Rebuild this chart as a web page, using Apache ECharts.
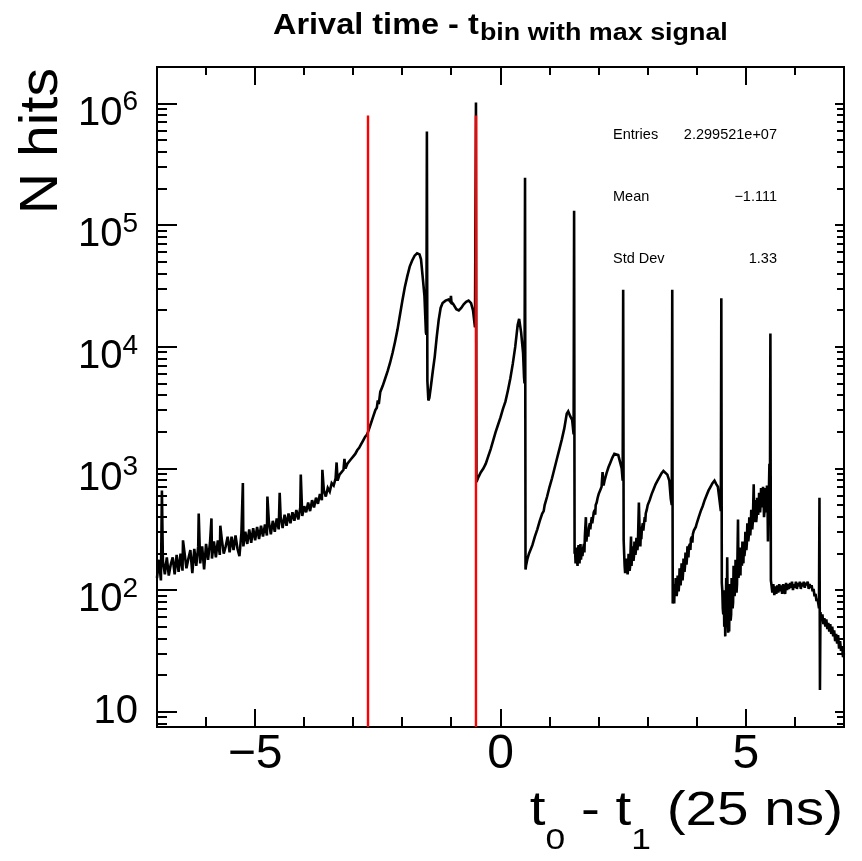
<!DOCTYPE html>
<html><head><meta charset="utf-8">
<script src="https://cdn.jsdelivr.net/npm/echarts@6/dist/echarts.min.js"></script>
<style>html,body{margin:0;padding:0;background:#fff;}#c{width:862px;height:861px;}</style>
</head><body><div id="c"></div>
<script>
// ---------------- DATA (y stored as log10(N hits)) ----------------
const X_MIN = -7, X_MAX = 7, Y_MIN = 7.5, Y_MAX = 2e6;

// noisy left tail: bins from -7.00 in steps of 0.04
const leftStart = -7.00, leftStep = 0.04;
const leftLogHits = [
2.10,2.25,2.08,2.24,2.13,2.27,2.12,2.21,2.27,2.13,2.29,2.15,2.30,2.16,2.31,2.18,2.26,2.33,2.14,2.34,
2.20,2.36,2.22,2.36,2.17,2.38,2.25,2.39,2.26,2.40,2.27,2.41,2.29,2.42,2.30,2.36,2.44,2.31,2.44,2.33,
2.45,2.34,2.28,2.47,2.36,2.48,2.38,2.50,2.39,2.51,2.41,2.52,2.42,2.53,2.44,2.54,2.45,2.56,2.46,2.57,
2.48,2.59,2.50,2.60,2.51,2.62,2.53,2.63,2.55,2.64,2.57,2.66,2.58,2.68,2.61,2.69,2.64,2.72,2.65,2.74,
2.68,2.76,2.71,2.79,2.74,2.82,2.77,2.84,2.81,2.88,2.86,2.92,2.90,2.95,2.96,2.99,3.00,3.04,3.05,3.08,
3.10,3.12,3.15,3.17,3.20,3.23,3.26,3.28
];
// single-bin upward spikes in the left tail [x, log10 N]
const leftSpikes = [
[-6.90,2.82],[-6.47,2.41],[-6.15,2.63],[-5.89,2.59],[-5.71,2.53],[-5.25,2.88],
[-4.75,2.77],[-4.50,2.80],[-4.07,2.95],[-3.63,2.99],[-3.34,3.05],[-3.18,3.08]
];
// rest of the histogram [x, log10 N]
const peakRegion = [
[-2.70,3.30],[-2.65,3.36],[-2.60,3.42],[-2.55,3.48],[-2.52,3.50],[-2.50,3.56],[-2.48,3.53],[-2.45,3.63],
[-2.40,3.68],[-2.35,3.74],[-2.30,3.80],[-2.25,3.87],[-2.20,3.95],[-2.15,4.04],[-2.10,4.14],[-2.05,4.26],
[-2.00,4.38],[-1.95,4.49],[-1.90,4.58],[-1.85,4.66],[-1.80,4.71],[-1.75,4.75],[-1.70,4.77],[-1.65,4.76],
[-1.62,4.72],[-1.58,4.55],[-1.55,4.42],[-1.52,4.12],[-1.51,4.10],
[-1.49,3.72],[-1.47,3.56],[-1.45,3.58],[-1.42,3.67],[-1.38,3.80],[-1.34,3.92],[-1.30,4.08],[-1.26,4.22],
[-1.22,4.32],[-1.18,4.36],[-1.12,4.38],[-1.06,4.39],[-1.02,4.37],[-1.01,4.42],[-1.00,4.37],[-0.96,4.35],
[-0.90,4.31],[-0.85,4.30],[-0.80,4.32],[-0.75,4.35],[-0.70,4.37],[-0.65,4.38],[-0.60,4.36],[-0.56,4.30],
[-0.52,4.16],[-0.51,4.15]
];
const centralRegion = [
[-0.49,2.89],[-0.45,2.93],[-0.40,2.97],[-0.35,3.00],[-0.30,3.04],[-0.25,3.10],[-0.20,3.16],[-0.15,3.23],
[-0.10,3.30],[-0.05,3.36],[0.00,3.42],[0.05,3.49],[0.10,3.55],[0.15,3.64],[0.20,3.74],[0.25,3.86],
[0.30,4.00],[0.35,4.18],[0.38,4.23],[0.42,4.12],[0.46,3.95],[0.48,3.75],[0.49,3.70],
[0.51,2.17],[0.52,2.20],[0.55,2.26],[0.58,2.30],[0.60,2.29],[0.65,2.37],[0.70,2.44],[0.72,2.45],[0.75,2.50],
[0.80,2.57],[0.85,2.63],[0.88,2.65],[0.90,2.70],[0.95,2.77],[1.00,2.85],[1.05,2.92],[1.10,3.00],[1.15,3.08],
[1.20,3.16],[1.25,3.24],[1.30,3.33],[1.35,3.45],[1.38,3.47],[1.42,3.43],[1.46,3.40],[1.48,3.32],[1.49,3.28]
];
const trainRegion = [
[1.51,2.30],[1.52,2.33],[1.53,2.22],[1.54,2.28],[1.55,2.35],[1.56,2.25],[1.57,2.20],[1.58,2.32],[1.59,2.37],
[1.60,2.27],[1.61,2.22],[1.62,2.30],[1.63,2.38],[1.64,2.25],[1.66,2.35],[1.67,2.28],
[1.68,2.33],[1.70,2.38],[1.71,2.31],[1.72,2.45],[1.74,2.60],[1.75,2.40],[1.76,2.44],[1.78,2.49],[1.79,2.44],
[1.80,2.51],[1.82,2.55],[1.83,2.50],[1.84,2.54],[1.86,2.60],[1.87,2.55],[1.88,2.58],[1.90,2.64],[1.92,2.66],
[1.93,2.62],[1.94,2.70],[1.96,2.72],[1.98,2.76],[2.00,2.79],[2.02,2.78],
[2.04,2.83],[2.06,2.85],[2.08,2.97],[2.10,2.86],[2.12,2.90],[2.16,2.96],[2.20,3.01],[2.24,3.05],[2.28,3.09],
[2.32,3.12],[2.36,3.13],[2.40,3.11],[2.44,3.10],[2.47,3.00],[2.49,2.90],
[2.51,2.41],[2.52,2.30],[2.53,2.20],[2.54,2.14],[2.55,2.24],[2.56,2.15],[2.57,2.26],[2.58,2.22],[2.59,2.13],
[2.60,2.17],[2.61,2.30],[2.62,2.25],[2.63,2.16],[2.64,2.19],[2.65,2.32],[2.66,2.44],[2.67,2.20],
[2.68,2.27],[2.69,2.36],[2.70,2.33],[2.71,2.24],[2.72,2.28],[2.73,2.40],[2.74,2.36],[2.75,2.29],[2.76,2.33],
[2.77,2.43],[2.78,2.40],[2.79,2.33],[2.80,2.38],[2.82,2.72],[2.84,2.42],[2.85,2.36],
[2.86,2.47],[2.87,2.42],[2.88,2.50],[2.90,2.55],[2.91,2.49],[2.92,2.53],[2.94,2.60],[2.95,2.56],[2.96,2.63],
[2.98,2.66],[3.00,2.70],[3.04,2.74],
[3.08,2.79],[3.12,2.83],[3.16,2.87],[3.20,2.90],[3.24,2.93],[3.28,2.96],[3.32,2.98],[3.36,2.99],[3.40,2.95],
[3.44,2.90],[3.47,2.75],[3.49,2.70],
[3.51,1.89],[3.52,1.92],[3.53,2.02],[3.54,1.89],[3.55,2.05],[3.56,1.98],[3.57,2.10],[3.58,2.03],[3.59,1.95],
[3.60,2.00],[3.61,2.12],[3.62,2.08],[3.63,1.99],[3.64,2.05],[3.65,2.18],[3.66,2.12],[3.67,2.04],
[3.68,2.10],[3.69,2.22],[3.70,2.16],[3.71,2.08],[3.72,2.14],[3.73,2.26],[3.74,2.22],[3.75,2.15],[3.76,2.20],
[3.77,2.31],[3.78,2.28],[3.79,2.21],[3.80,2.26],[3.81,2.36],[3.82,2.33],[3.83,2.27],[3.84,2.36],[3.86,2.38],
[3.87,2.33],[3.88,2.42],[3.90,2.44],[3.91,2.39],[3.92,2.46],[3.94,2.49],[3.96,2.48],
[3.98,2.52],[4.00,2.55],[4.04,2.60],[4.08,2.65],[4.12,2.69],[4.16,2.74],[4.20,2.78],[4.24,2.82],[4.28,2.85],
[4.32,2.88],[4.36,2.90],[4.40,2.87],[4.43,2.85],[4.46,2.75],[4.49,2.65]
];
const tailRegion = [
[4.51,2.06],[4.52,2.00],[4.53,1.85],[4.54,1.80],[4.55,2.00],[4.56,1.70],[4.57,1.90],[4.58,1.62],[4.59,1.85],
[4.60,2.10],[4.61,1.75],[4.62,2.27],[4.63,1.80],[4.64,1.65],[4.65,1.95],[4.66,1.66],[4.67,2.05],[4.68,1.95],
[4.69,1.75],[4.70,1.80],[4.71,2.10],[4.72,2.05],[4.73,1.85],[4.74,1.90],[4.75,2.20],[4.76,2.15],[4.77,1.95],
[4.78,2.00],[4.79,2.25],[4.80,2.20],[4.81,1.98],[4.82,2.05],[4.83,2.30],[4.84,2.58],[4.85,2.10],[4.86,2.15],
[4.87,2.35],[4.88,2.25],[4.89,2.12],[4.90,2.35],[4.91,2.22],[4.92,2.20],[4.93,2.40],[4.94,2.30],[4.95,2.22],
[4.96,2.40],[4.97,2.28],[4.98,2.32],[4.99,2.48],[5.00,2.45],[5.01,2.33],[5.02,2.38],[5.03,2.55],[5.04,2.50],
[5.05,2.40],[5.06,2.45],[5.07,2.60],[5.08,2.56],[5.09,2.45],[5.10,2.52],[5.11,2.66],[5.12,2.62],[5.13,2.50],
[5.14,2.55],[5.15,2.70],[5.16,2.87],[5.17,2.56],[5.18,2.62],[5.19,2.74],[5.20,2.68],[5.21,2.56],[5.22,2.60],
[5.23,2.76],[5.24,2.72],[5.25,2.62],[5.26,2.66],[5.27,2.80],[5.28,2.75],[5.29,2.64],[5.30,2.70],[5.31,2.84],
[5.32,2.82],[5.33,2.68],[5.34,2.74],[5.35,2.85],[5.36,2.78],[5.37,2.60],[5.38,2.65],[5.39,2.84],[5.40,2.76],
[5.41,2.64],[5.42,2.70],[5.43,2.86],[5.44,2.80],[5.45,2.40],[5.46,2.72],[5.47,2.82],[5.48,3.04],[5.49,2.60],
[5.51,2.08],[5.52,2.05],[5.54,1.98],[5.56,2.05],[5.58,1.96],[5.60,2.03],[5.62,1.97],[5.64,2.04],[5.66,1.98],
[5.68,2.05],[5.70,1.99],[5.72,2.04],[5.74,1.97],[5.76,2.05],[5.78,2.00],[5.80,1.97],[5.82,2.06],[5.84,2.00],
[5.86,2.05],[5.88,2.01],[5.90,2.06],[5.92,2.02],[5.94,2.07],[5.96,2.00],[5.98,2.05],[6.00,2.02],[6.02,2.07],
[6.04,2.01],[6.06,2.06],[6.08,2.03],[6.10,2.07],[6.12,2.01],[6.14,2.06],[6.16,2.03],[6.18,2.07],[6.20,2.02],
[6.22,2.06],[6.24,2.04],[6.26,2.07],[6.28,2.01],[6.30,2.05],[6.32,2.02],[6.34,2.04],[6.36,1.99],[6.38,2.01],
[6.40,1.95],[6.42,1.97],[6.44,1.91],[6.46,1.93],[6.48,1.88],[6.49,1.85],
[6.51,1.18],[6.52,1.82],[6.54,1.75],[6.56,1.80],[6.58,1.72],[6.60,1.77],[6.62,1.70],[6.64,1.76],[6.66,1.68],
[6.68,1.73],[6.70,1.66],[6.72,1.72],[6.74,1.64],[6.76,1.70],[6.78,1.62],[6.80,1.67],[6.82,1.58],[6.84,1.64],
[6.86,1.56],[6.88,1.63],[6.90,1.52],[6.92,1.58],[6.94,1.50],[6.96,1.54],[6.98,1.45],[7.00,1.48]
];
// narrow peaks at half-integer bins [x, log10 N]
const peakBins = [
[-1.50,5.77],[-0.50,6.01],[0.50,5.39],[1.50,5.12],[2.50,4.47],[3.50,4.47],[4.50,4.40],[5.50,4.11],[6.50,2.76]
];
// vertical red cut lines
const cutLines = [-2.70, -0.50];
const cutLineTop = 8e5;
// axis ticks
const xMajorTicks = [-5, 0, 5];
const xMinorTicks = [-6, -4, -3, -2, -1, 1, 2, 3, 4, 6];
const yDecades = [10, 100, 1000, 10000, 100000, 1000000];
// statistics box
const statNames = ['Entries', 'Mean', 'Std Dev'];
const statValues = ['2.299521e+07', '\u22121.111', '1.33'];

// ---------------- BUILD ----------------
const FONT = '"Liberation Sans", Arial, Helvetica, sans-serif';
let pts = [];
leftLogHits.forEach((v, i) => pts.push([+(leftStart + i * leftStep).toFixed(2), v]));
pts = pts.concat(leftSpikes, peakRegion, centralRegion, trainRegion, tailRegion, peakBins);
pts.sort((a, b) => a[0] - b[0]);
const histData = pts.map(p => [p[0], Math.pow(10, p[1])]);

const tickItems = [];
xMajorTicks.forEach(x => tickItems.push([x, Y_MIN, 18, 18, 0]));
xMinorTicks.forEach(x => tickItems.push([x, Y_MIN, 10, 8, 0]));
yDecades.forEach(d => {
  tickItems.push([X_MIN, d, 20, 9, 1]);
  for (let m = 2; m <= 9; m++) {
    const v = d / 10 * m;
    if (v > Y_MIN && v < Y_MAX) tickItems.push([X_MIN, v, 10, 7, 1]);
  }
});
for (let m = 2; m <= 9; m++) { const v = 1e6 * m; if (v < Y_MAX) tickItems.push([X_MIN, v, 10, 7, 1]); }

const chart = echarts.init(document.getElementById('c'), null, {renderer: 'canvas'});
const series = [
  {
    type: 'line', data: histData, showSymbol: false, symbol: 'none', smooth: false,
    lineStyle: {color: '#000', width: 2.6, join: 'miter', miterLimit: 3}, z: 2, silent: true, clip: true
  }
];
cutLines.forEach(x => series.push({
  type: 'line', data: [[x, Y_MIN], [x, cutLineTop]], showSymbol: false, symbol: 'none',
  lineStyle: {color: '#ff0000', width: 2.4}, z: 3, silent: true
}));
series.push({
  type: 'custom', data: tickItems, encode: {x: 0, y: 1}, z: 4, silent: true, clip: false,
  renderItem: function (params, api) {
    const cs = params.coordSys;
    const p = api.coord([api.value(0), api.value(1)]);
    const a = api.value(2), b = api.value(3), k = api.value(4);
    let lines;
    if (k === 0) {
      const X = Math.round(p[0]);
      lines = [[X, cs.y + cs.height, X, cs.y + cs.height - a], [X, cs.y, X, cs.y + b]];
    } else {
      const Y = Math.round(p[1]);
      lines = [[cs.x, Y, cs.x + a, Y], [cs.x + cs.width, Y, cs.x + cs.width - b, Y]];
    }
    return {type: 'group', children: lines.map(l => ({
      type: 'line', shape: {x1: l[0], y1: l[1], x2: l[2], y2: l[3]},
      style: {stroke: '#000', lineWidth: 2}
    }))};
  }
});

const graphic = [
  { // title
    type: 'group', x: 273, y: 11, scaleX: 1.12, silent: true,
    children: [{type: 'text', style: {
      x: 0, y: 0, align: 'left', verticalAlign: 'top',
      text: '{m|Arival time - t}{s|bin with max signal}',
      rich: {
        m: {fontSize: 29, lineHeight: 29, fontWeight: 'bold', fontFamily: FONT, fill: '#000', verticalAlign: 'top'},
        s: {fontSize: 24, lineHeight: 24, fontWeight: 'bold', fontFamily: FONT, fill: '#000', verticalAlign: 'top', padding: [10, 0, 0, 1]}
      }
    }}]
  },
  { // y axis title
    type: 'group', x: 42, y: 68, rotation: Math.PI / 2, scaleX: 1.06, silent: true,
    children: [{type: 'text', style: {
      x: 0, y: 0, align: 'right', verticalAlign: 'middle', text: 'N hits',
      fontSize: 54, fontFamily: FONT, fill: '#000'
    }}]
  },
  { // x axis title
    type: 'group', x: 843, y: 788, scaleX: 1.18, silent: true,
    children: [{type: 'text', style: {
      x: 0, y: 0, align: 'right', verticalAlign: 'top',
      text: '{m|t}{s|0}{m| - t}{s|1}{m| (25 ns)}',
      rich: {
        m: {fontSize: 48, lineHeight: 48, fontFamily: FONT, fill: '#000', verticalAlign: 'top'},
        s: {fontSize: 30, lineHeight: 30, fontFamily: FONT, fill: '#000', verticalAlign: 'top', padding: [38, 0, 0, 0]}
      }
    }}]
  }
];
statNames.forEach((n, i) => {
  const y = 135 + i * 62;
  graphic.push({type: 'text', silent: true, style: {x: 613, y: y, text: n, align: 'left', verticalAlign: 'middle', fontSize: 14.5, fontFamily: FONT, fill: '#000'}});
  graphic.push({type: 'text', silent: true, style: {x: 777, y: y, text: statValues[i], align: 'right', verticalAlign: 'middle', fontSize: 14.5, fontFamily: FONT, fill: '#000'}});
});

chart.setOption({
  animation: false,
  backgroundColor: '#fff',
  grid: {left: 157, right: 18, top: 67, bottom: 134, show: true, borderColor: '#000', borderWidth: 2,
         backgroundColor: 'transparent', containLabel: false, outerBoundsMode: 'none'},
  xAxis: {
    type: 'value', min: X_MIN, max: X_MAX, splitNumber: 3,
    axisLine: {show: false}, axisTick: {show: false}, splitLine: {show: false}, minorTick: {show: false},
    axisLabel: {
      show: true, margin: 4, color: '#000', fontSize: 48, fontFamily: FONT,
      formatter: v => (Math.abs(v) >= 6.99 ? '' : (v < 0 ? '\u2212' + Math.abs(v) : String(v)))
    }
  },
  yAxis: {
    type: 'log', logBase: 10, min: Y_MIN, max: Y_MAX,
    axisLine: {show: false}, axisTick: {show: false}, splitLine: {show: false}, minorTick: {show: false},
    axisLabel: {
      show: true, margin: 19, color: '#000', fontFamily: FONT,
      formatter: function (v) {
        const e = Math.log10(v), r = Math.round(e);
        if (Math.abs(e - r) > 1e-6 || r < 1) return '';
        return r === 1 ? '{p|10}' : '{m|10}{s|' + r + '}';
      },
      rich: {
        p: {fontSize: 40, lineHeight: 40, fontFamily: FONT, color: '#000'},
        m: {fontSize: 40, lineHeight: 40, fontFamily: FONT, color: '#000', padding: [20, 0, 0, 0]},
        s: {fontSize: 28, lineHeight: 28, fontFamily: FONT, color: '#000', verticalAlign: 'top', padding: [5, 0, 0, 0]}
      }
    }
  },
  series: series,
  graphic: graphic
});
</script></body></html>
